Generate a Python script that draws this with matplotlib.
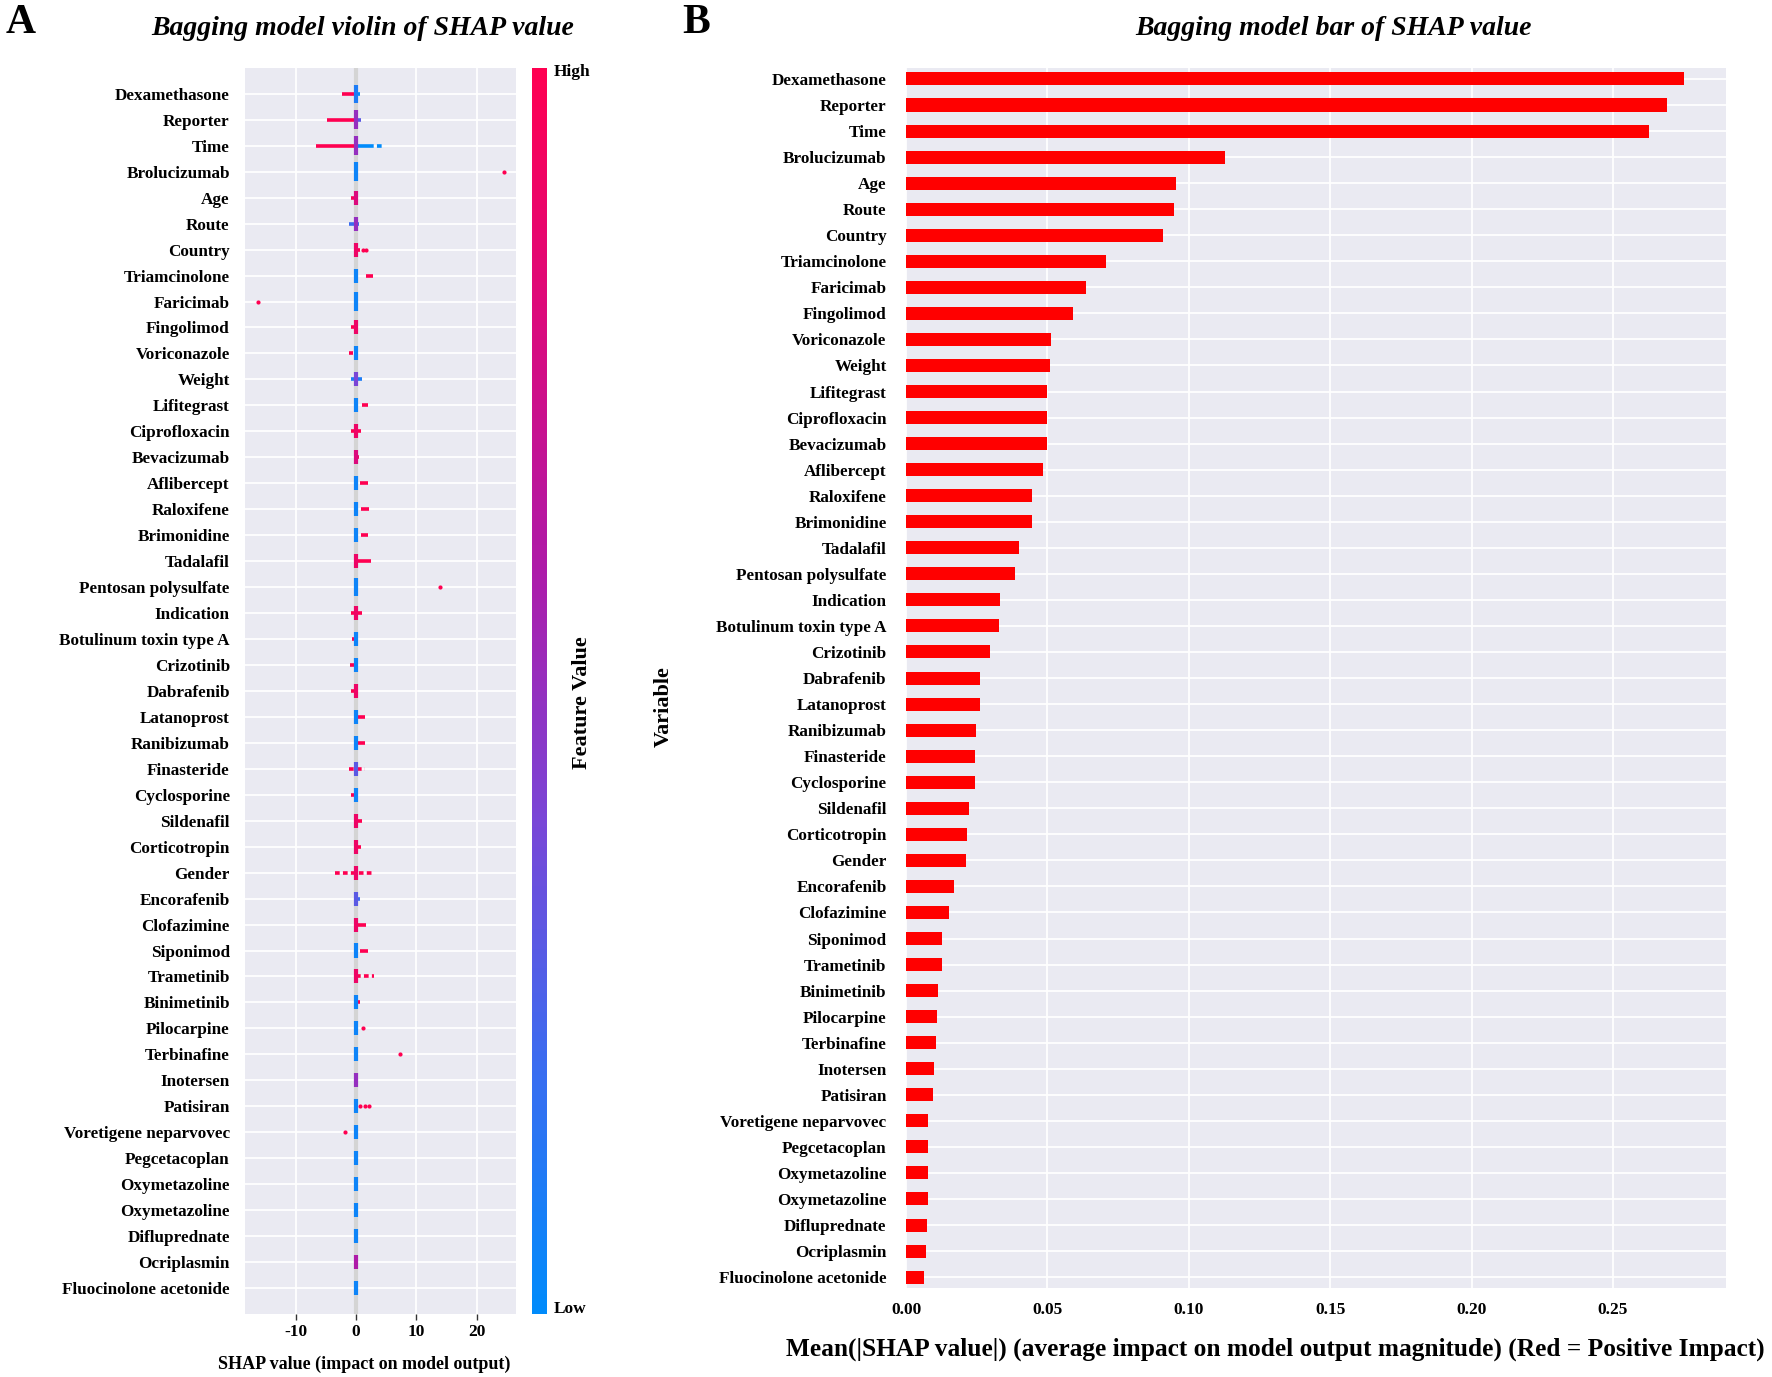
import numpy as np
import matplotlib
matplotlib.use("Agg")
import matplotlib as mpl
import matplotlib.pyplot as plt
from matplotlib.colors import LinearSegmentedColormap

plt.rcParams["font.family"] = ["Liberation Serif", "DejaVu Serif"]
plt.rcParams["font.weight"] = "bold"

# features, top to bottom (same order in both panels)
features = [
    "Dexamethasone", "Reporter", "Time", "Brolucizumab", "Age", "Route",
    "Country", "Triamcinolone", "Faricimab", "Fingolimod", "Voriconazole",
    "Weight", "Lifitegrast", "Ciprofloxacin", "Bevacizumab", "Aflibercept",
    "Raloxifene", "Brimonidine", "Tadalafil", "Pentosan polysulfate",
    "Indication", "Botulinum toxin type A", "Crizotinib", "Dabrafenib",
    "Latanoprost", "Ranibizumab", "Finasteride", "Cyclosporine", "Sildenafil",
    "Corticotropin", "Gender", "Encorafenib", "Clofazimine", "Siponimod",
    "Trametinib", "Binimetinib", "Pilocarpine", "Terbinafine", "Inotersen",
    "Patisiran", "Voretigene neparvovec", "Pegcetacoplan", "Oxymetazoline",
    "Oxymetazoline", "Difluprednate", "Ocriplasmin", "Fluocinolone acetonide",
]

# mean |SHAP| per feature (panel B)
mean_abs_shap = [
    0.2750, 0.2690, 0.2628, 0.1128, 0.0953, 0.0946, 0.0907, 0.0707, 0.0636,
    0.0592, 0.0513, 0.0508, 0.0500, 0.0500, 0.0500, 0.0484, 0.0444, 0.0444,
    0.0400, 0.0384, 0.0332, 0.0328, 0.0296, 0.0260, 0.0260, 0.0248, 0.0244,
    0.0244, 0.0224, 0.0216, 0.0212, 0.0168, 0.0152, 0.0128, 0.0128, 0.0112,
    0.0110, 0.0106, 0.0099, 0.0095, 0.0079, 0.0079, 0.0077, 0.0076, 0.0074,
    0.0069, 0.0063,
]

# feature value (0 = low, 1 = high) of the dense cluster at SHAP = 0
core_value = [
    0.1, 0.5, 0.5, 0.05, 0.8, 0.5, 0.9, 0.05, 0.05, 0.9, 0.05, 0.4, 0.05,
    0.9, 0.8, 0.05, 0.05, 0.05, 0.9, 0.05, 0.9, 0.05, 0.05, 0.9, 0.05, 0.05,
    0.3, 0.05, 0.9, 0.9, 0.9, 0.3, 0.9, 0.05, 0.9, 0.05, 0.05, 0.05, 0.5,
    0.05, 0.05, 0.05, 0.05, 0.05, 0.05, 0.6, 0.05,
]

# spread of SHAP values: feature -> [(shap low, shap high, feature value)]
spreads = {
    "Dexamethasone": [(-2.3, 0.0, 1.0), (0.0, 0.6, 0.0)],
    "Reporter": [(-4.8, 0.0, 1.0), (0.0, 0.8, 0.3)],
    "Time": [(-6.6, 0.0, 1.0), (0.0, 2.2, 0.0), (2.2, 4.4, 0.0)],
    "Age": [(-0.8, 0.3, 0.95)],
    "Route": [(-1.2, 0.4, 0.2)],
    "Country": [(0.0, 0.6, 1.0)],
    "Triamcinolone": [(1.7, 2.8, 1.0)],
    "Fingolimod": [(-0.85, 0.2, 1.0)],
    "Voriconazole": [(-1.2, -0.5, 1.0)],
    "Weight": [(-0.8, 0.9, 0.1)],
    "Lifitegrast": [(0.9, 1.9, 1.0)],
    "Ciprofloxacin": [(-0.8, 0.8, 1.0)],
    "Bevacizumab": [(-0.3, 0.5, 0.9)],
    "Aflibercept": [(0.6, 1.9, 1.0)],
    "Raloxifene": [(0.8, 2.2, 1.0)],
    "Brimonidine": [(0.8, 2.0, 1.0)],
    "Tadalafil": [(0.0, 2.5, 1.0)],
    "Indication": [(-0.8, 0.9, 1.0)],
    "Botulinum toxin type A": [(-0.6, 0.0, 1.0)],
    "Crizotinib": [(-1.0, -0.2, 1.0)],
    "Dabrafenib": [(-0.8, 0.2, 1.0)],
    "Latanoprost": [(0.2, 1.4, 1.0)],
    "Ranibizumab": [(0.3, 1.4, 1.0)],
    "Finasteride": [(-1.1, 1.4, 1.0)],
    "Cyclosporine": [(-0.8, 0.0, 1.0)],
    "Sildenafil": [(0.0, 0.9, 1.0)],
    "Corticotropin": [(-0.2, 0.8, 1.0)],
    "Gender": [(-3.5, 2.6, 1.0)],
    "Encorafenib": [(-0.4, 0.7, 0.2)],
    "Clofazimine": [(0.0, 1.6, 1.0)],
    "Siponimod": [(0.7, 2.0, 1.0)],
    "Trametinib": [(0.0, 2.9, 1.0)],
    "Binimetinib": [(0.0, 0.7, 1.0)],
}
# spreads drawn as loose dots: feature -> indices in spreads[feature]
dotted_segments = {"Time": [2], "Finasteride": [0], "Gender": [0],
                   "Trametinib": [0]}

# isolated high-value points: feature -> SHAP values
outliers = {
    "Brolucizumab": [24.5],
    "Country": [1.1, 1.7],
    "Faricimab": [-16.3],
    "Pentosan polysulfate": [13.9],
    "Pilocarpine": [1.2],
    "Terbinafine": [7.3],
    "Patisiran": [0.6, 1.5, 2.2],
    "Voretigene neparvovec": [-1.8],
}
tall_core = ["Dexamethasone", "Reporter", "Time", "Brolucizumab",
             "Faricimab", "Pentosan polysulfate"]

shap_ticks = [-10, 0, 10, 20]
bar_ticks = [0.00, 0.05, 0.10, 0.15, 0.20, 0.25]

cmap = LinearSegmentedColormap.from_list(
    "shap_red_blue",
    ["#008bfb", "#3b6cf0", "#7a45d6", "#ae1aa8", "#db0a7c", "#ff0051"])

bg = "#EAEAF2"
n = len(features)
rows = np.arange(n)

fig = plt.figure(figsize=(17.72, 13.77), dpi=100)

# ---------------- panel A: violin of SHAP values ----------------
ax1 = fig.add_axes([0.1383, 0.0458, 0.1529, 0.9049])
ax1.set_facecolor(bg)
ax1.set_axisbelow(True)
ax1.grid(True, color="white", linewidth=1.3)
for s in ax1.spines.values():
    s.set_visible(False)
ax1.axvline(0, color="#d4d4d4", linewidth=3, zorder=1)

for i, name in enumerate(features):
    dots = dotted_segments.get(name, [])
    for k, (lo, hi, fv) in enumerate(spreads.get(name, [])):
        ls = (0, (1.3, 0.9)) if k in dots else "-"
        ax1.hlines(i, lo, hi, colors=[cmap(fv)], linewidth=2.6,
                   linestyles=[ls], zorder=2)
    xs = outliers.get(name, [])
    if xs:
        ax1.scatter(xs, [i] * len(xs), s=9, color=cmap(1.0), zorder=4,
                    linewidths=0)
    h = 0.36 if name in tall_core else 0.27
    ax1.vlines(0, i - h, i + h, colors=[cmap(core_value[i])], linewidth=3.0,
               zorder=3)

ax1.set_xlim(-18.4, 26.5)
ax1.set_ylim(n, -1)
ax1.set_yticks(rows)
ax1.set_yticklabels(features, fontsize=12.3, fontweight="bold")
ax1.set_xticks(shap_ticks)
ax1.set_xticklabels([str(t) for t in shap_ticks], fontsize=12.5,
                    fontweight="bold")
ax1.tick_params(axis="y", length=0, pad=11)
ax1.tick_params(axis="x", length=4, width=1, color="#333333", pad=3)

cax = fig.add_axes([0.3002, 0.0458, 0.00847, 0.9049])
cb = mpl.colorbar.ColorbarBase(cax, cmap=cmap, orientation="vertical")
cb.outline.set_visible(False)
cb.set_ticks([])
fig.text(0.3126, 0.948, "High", fontsize=12.5, fontweight="bold",
         ha="left", va="center")
fig.text(0.3126, 0.0494, "Low", fontsize=12.5, fontweight="bold",
         ha="left", va="center")
fig.text(0.3284, 0.4895, "Feature Value", fontsize=16, fontweight="bold",
         rotation=90, ha="center", va="center")

fig.text(0.2049, 0.979, "Bagging model violin of SHAP value", fontsize=20,
         fontweight="bold", style="italic", ha="center", va="center")
fig.text(0.2054, 0.0094, "SHAP value (impact on model output)", fontsize=13,
         fontweight="bold", ha="center", va="center")
fig.text(0.003, 0.997, "A", fontsize=30, fontweight="bold", ha="left",
         va="top")

# ---------------- panel B: bar of mean |SHAP| ----------------
ax2 = fig.add_axes([0.5113, 0.0646, 0.4628, 0.886])
ax2.set_facecolor(bg)
ax2.set_axisbelow(True)
ax2.grid(True, color="white", linewidth=1.3)
for s in ax2.spines.values():
    s.set_visible(False)
ax2.barh(rows, mean_abs_shap, height=0.5, color="#ff0000", zorder=2)
ax2.set_xlim(0, 0.29)
ax2.set_ylim(n - 1 + 0.42, -0.42)
ax2.set_yticks(rows)
ax2.set_yticklabels(features, fontsize=12.3, fontweight="bold")
ax2.set_xticks(bar_ticks)
ax2.set_xticklabels(["%.2f" % t for t in bar_ticks], fontsize=12.5,
                    fontweight="bold")
ax2.tick_params(axis="y", length=0, pad=14)
ax2.tick_params(axis="x", length=0, pad=10)

fig.text(0.3747, 0.487, "Variable", fontsize=16, fontweight="bold",
         rotation=90, ha="center", va="center")
fig.text(0.7523, 0.979, "Bagging model bar of SHAP value", fontsize=20,
         fontweight="bold", style="italic", ha="center", va="center")
fig.text(0.7195, 0.0203,
         "Mean(|SHAP value|) (average impact on model output magnitude) "
         "(Red = Positive Impact)",
         fontsize=18.3, fontweight="bold", ha="center", va="center")
fig.text(0.385, 0.997, "B", fontsize=30, fontweight="bold", ha="left",
         va="top")

fig.savefig("out.png", dpi=100, facecolor="white")
